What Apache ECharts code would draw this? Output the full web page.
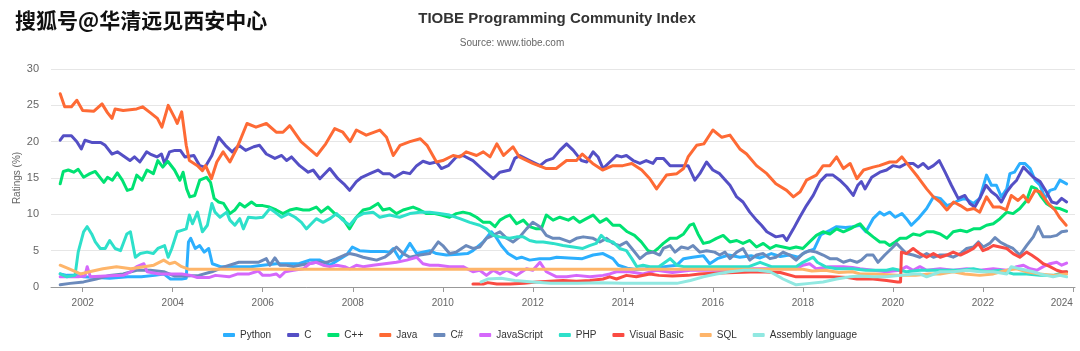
<!DOCTYPE html>
<html>
<head>
<meta charset="utf-8">
<title>TIOBE Programming Community Index</title>
<script src="https://cdn.jsdelivr.net/npm/echarts@6/dist/echarts.min.js"></script>
<style>
  html, body { margin: 0; padding: 0; background: #fff; }
  #tiobeChart { width: 1080px; height: 351px; }
</style>
</head>
<body>
<div id="tiobeChart"></div>
<script>
// 图例 / 系列名称
var languages = ['Python', 'C', 'C++', 'Java', 'C#', 'JavaScript', 'PHP', 'Visual Basic', 'SQL', 'Assembly language'];
var yearTicks = [2002, 2004, 2006, 2008, 2010, 2012, 2014, 2016, 2018, 2020, 2022, 2024];

// [year, rating %]
var pythonData = [[2001.5,1.8],[2001.65,1.6],[2001.85,1.6],[2002.02,1.4],[2002.3,1.3],[2002.6,1.2],[2002.8,1.3],[2003.0,1.4],[2003.3,1.4],[2003.6,1.6],[2003.8,1.8],[2003.95,1.1],[2004.2,1.1],[2004.3,1.2],[2004.35,6.2],[2004.4,6.7],[2004.5,5.3],[2004.6,5.7],[2004.7,4.8],[2004.8,5.3],[2004.88,3.2],[2005.06,2.8],[2005.4,2.8],[2005.73,2.8],[2006.0,3.0],[2006.3,3.2],[2006.8,3.2],[2007.04,3.7],[2007.27,3.7],[2007.49,3.0],[2007.67,3.7],[2007.86,4.4],[2007.99,5.5],[2008.15,5.0],[2008.4,4.9],[2008.7,4.9],[2008.82,4.8],[2008.9,5.3],[2009.04,3.9],[2009.15,4.8],[2009.27,6.0],[2009.42,4.6],[2009.71,5.0],[2009.86,4.6],[2010.08,4.4],[2010.35,4.5],[2010.55,4.6],[2010.67,5.0],[2010.9,6.2],[2011.08,7.6],[2011.18,6.9],[2011.3,5.7],[2011.45,4.6],[2011.64,3.9],[2011.75,4.1],[2011.93,3.7],[2012.15,3.9],[2012.38,3.9],[2012.53,4.1],[2012.8,4.0],[2013.1,3.9],[2013.34,4.4],[2013.56,4.6],[2013.78,3.9],[2013.9,3.0],[2014.1,2.6],[2014.3,2.4],[2014.5,2.5],[2014.8,2.7],[2015.05,2.9],[2015.2,3.0],[2015.35,3.9],[2015.55,4.1],[2015.79,4.3],[2015.93,3.2],[2016.1,3.9],[2016.35,4.4],[2016.6,4.1],[2016.85,4.3],[2017.05,4.0],[2017.3,4.6],[2017.5,4.2],[2017.7,4.4],[2017.9,4.1],[2018.05,4.8],[2018.25,5.2],[2018.4,7.2],[2018.6,7.8],[2018.75,8.3],[2018.95,8.2],[2019.1,8.3],[2019.27,8.5],[2019.4,7.6],[2019.56,9.4],[2019.71,10.3],[2019.8,9.9],[2019.93,10.3],[2020.05,9.6],[2020.2,10.1],[2020.3,9.4],[2020.41,8.5],[2020.56,9.4],[2020.75,10.8],[2020.9,12.4],[2021.05,12.2],[2021.2,11.2],[2021.34,11.5],[2021.45,11.9],[2021.6,12.2],[2021.79,11.5],[2021.93,12.2],[2022.08,15.4],[2022.19,14.0],[2022.3,14.0],[2022.41,12.4],[2022.53,13.5],[2022.6,15.6],[2022.7,15.8],[2022.82,17.0],[2022.93,17.0],[2023.05,16.3],[2023.16,14.7],[2023.27,14.0],[2023.38,12.2],[2023.49,13.3],[2023.6,13.5],[2023.71,14.7],[2023.86,14.2]];

var cData = [[2001.5,20.2],[2001.57,20.8],[2001.75,20.8],[2001.87,20.0],[2001.97,19.0],[2002.05,20.2],[2002.2,19.9],[2002.4,19.9],[2002.5,19.5],[2002.65,18.3],[2002.77,18.6],[2003.05,17.4],[2003.15,17.9],[2003.27,17.2],[2003.42,18.6],[2003.5,18.3],[2003.65,17.9],[2003.75,18.3],[2003.82,17.0],[2003.93,18.6],[2004.05,18.8],[2004.17,18.8],[2004.27,17.9],[2004.47,18.1],[2004.6,16.7],[2004.72,16.5],[2004.87,18.1],[2005.02,20.6],[2005.17,19.5],[2005.32,18.6],[2005.47,19.5],[2005.62,18.8],[2005.8,19.3],[2005.93,19.5],[2006.08,18.3],[2006.27,17.7],[2006.42,18.1],[2006.53,17.4],[2006.64,17.9],[2006.82,16.7],[2007.01,15.8],[2007.12,16.1],[2007.27,14.9],[2007.49,16.3],[2007.67,14.9],[2007.8,14.2],[2007.93,13.3],[2008.08,14.5],[2008.2,15.1],[2008.38,15.6],[2008.56,16.1],[2008.67,15.6],[2008.82,15.6],[2008.93,15.1],[2009.12,15.8],[2009.27,15.6],[2009.42,16.7],[2009.56,17.3],[2009.71,17.0],[2009.86,17.2],[2009.97,16.3],[2010.12,16.7],[2010.3,17.9],[2010.45,18.1],[2010.67,17.4],[2010.9,16.1],[2011.12,14.9],[2011.27,15.8],[2011.49,16.1],[2011.6,17.7],[2011.71,18.1],[2011.93,17.4],[2012.16,16.7],[2012.3,17.4],[2012.45,17.7],[2012.6,18.8],[2012.75,19.7],[2012.9,18.8],[2013.08,17.4],[2013.2,17.2],[2013.34,18.6],[2013.45,17.9],[2013.56,16.3],[2013.71,17.2],[2013.86,18.1],[2013.97,17.9],[2014.08,18.1],[2014.23,17.4],[2014.38,17.0],[2014.52,17.4],[2014.67,17.0],[2014.75,17.7],[2014.9,17.7],[2015.05,16.7],[2015.2,16.7],[2015.45,16.7],[2015.6,14.7],[2015.71,15.6],[2015.86,17.2],[2016.0,16.1],[2016.15,15.6],[2016.38,14.0],[2016.53,12.4],[2016.67,11.7],[2016.82,10.3],[2016.97,9.2],[2017.08,8.5],[2017.2,7.6],[2017.4,6.9],[2017.56,7.1],[2017.64,6.4],[2017.79,8.0],[2017.93,9.6],[2018.08,11.2],[2018.23,12.6],[2018.38,14.5],[2018.52,15.4],[2018.67,15.4],[2018.82,14.7],[2018.97,13.8],[2019.12,12.6],[2019.22,14.0],[2019.3,14.5],[2019.38,13.5],[2019.53,15.1],[2019.71,15.8],[2019.86,16.1],[2020.0,16.7],[2020.15,16.5],[2020.3,17.0],[2020.45,17.0],[2020.56,16.5],[2020.67,17.0],[2020.79,16.3],[2020.9,16.7],[2021.03,17.4],[2021.16,15.8],[2021.3,14.0],[2021.45,12.2],[2021.6,12.6],[2021.71,11.5],[2021.82,11.0],[2021.93,12.2],[2022.07,14.0],[2022.19,13.1],[2022.3,12.6],[2022.41,11.7],[2022.53,13.1],[2022.64,14.0],[2022.75,14.7],[2022.9,16.5],[2023.01,15.8],[2023.12,15.1],[2023.27,14.5],[2023.41,13.1],[2023.53,11.7],[2023.64,11.5],[2023.75,12.2],[2023.86,11.7]];

var cppData = [[2001.5,14.2],[2001.57,15.9],[2001.68,16.1],[2001.8,15.8],[2001.9,16.2],[2002.02,15.1],[2002.16,15.6],[2002.28,15.9],[2002.47,14.4],[2002.55,15.1],[2002.66,14.7],[2002.77,15.7],[2002.88,14.7],[2002.99,13.3],[2003.1,13.5],[2003.2,15.4],[2003.32,14.7],[2003.43,16.1],[2003.57,15.6],[2003.67,17.4],[2003.78,16.5],[2003.89,17.3],[2004.04,16.1],[2004.16,14.7],[2004.23,15.8],[2004.31,13.5],[2004.38,12.4],[2004.49,12.6],[2004.6,14.7],[2004.75,15.1],[2004.84,14.4],[2004.92,12.2],[2005.02,11.7],[2005.13,11.5],[2005.27,10.1],[2005.38,10.6],[2005.49,11.5],[2005.6,11.0],[2005.75,11.7],[2005.86,11.2],[2006.0,11.2],[2006.15,11.0],[2006.3,10.6],[2006.45,10.1],[2006.6,10.6],[2006.75,10.8],[2006.9,10.6],[2007.04,10.6],[2007.19,11.0],[2007.3,10.3],[2007.45,11.0],[2007.6,10.1],[2007.78,9.4],[2007.93,8.0],[2008.08,9.6],[2008.23,10.6],[2008.38,10.8],[2008.56,11.5],[2008.67,10.6],[2008.82,10.8],[2008.97,10.1],[2009.12,10.6],[2009.34,11.0],[2009.49,10.6],[2009.64,10.1],[2009.82,10.1],[2009.97,9.9],[2010.15,9.6],[2010.3,10.1],[2010.45,10.3],[2010.6,10.1],[2010.75,9.6],[2010.9,8.9],[2011.05,8.9],[2011.16,8.3],[2011.27,9.2],[2011.38,9.6],[2011.49,9.9],[2011.64,8.7],[2011.79,9.2],[2011.93,8.3],[2012.08,8.0],[2012.19,8.0],[2012.3,9.9],[2012.45,9.2],[2012.6,9.6],[2012.79,9.2],[2012.9,9.6],[2013.04,8.9],[2013.19,9.4],[2013.34,9.9],[2013.49,8.9],[2013.64,9.4],[2013.78,8.5],[2013.93,8.5],[2014.1,7.6],[2014.26,7.1],[2014.41,6.2],[2014.56,5.0],[2014.68,4.8],[2014.78,5.3],[2014.9,6.0],[2015.05,6.7],[2015.2,6.7],[2015.35,7.3],[2015.49,8.5],[2015.57,8.7],[2015.67,7.3],[2015.79,6.0],[2015.93,6.2],[2016.08,6.7],[2016.23,7.1],[2016.38,6.2],[2016.53,6.4],[2016.67,6.0],[2016.82,6.4],[2016.97,5.5],[2017.12,6.0],[2017.27,5.3],[2017.4,5.7],[2017.56,5.5],[2017.71,5.3],[2017.85,5.5],[2018.0,5.3],[2018.15,6.2],[2018.3,7.1],[2018.45,7.6],[2018.6,7.3],[2018.75,8.0],[2018.9,7.6],[2019.05,8.0],[2019.2,8.5],[2019.27,8.7],[2019.42,7.6],[2019.56,6.9],[2019.71,6.2],[2019.82,6.2],[2019.93,5.7],[2020.05,6.2],[2020.16,6.7],[2020.3,6.7],[2020.45,7.3],[2020.6,7.1],[2020.75,7.6],[2020.9,7.6],[2021.05,7.3],[2021.2,6.7],[2021.34,7.6],[2021.5,7.8],[2021.64,7.6],[2021.79,8.0],[2021.93,8.0],[2022.08,8.5],[2022.23,8.7],[2022.38,9.4],[2022.53,10.3],[2022.67,10.1],[2022.82,10.8],[2022.97,11.9],[2023.08,13.8],[2023.19,13.5],[2023.3,12.4],[2023.41,11.5],[2023.56,10.9],[2023.71,10.8],[2023.86,10.4]];

var javaData = [[2001.5,26.6],[2001.6,24.8],[2001.75,24.8],[2001.87,25.7],[2002.0,24.3],[2002.25,24.2],[2002.43,25.2],[2002.55,24.0],[2002.65,23.2],[2002.72,24.5],[2002.9,24.3],[2003.2,24.5],[2003.33,24.8],[2003.5,24.0],[2003.66,23.2],[2003.76,22.0],[2003.9,25.0],[2004.05,23.2],[2004.1,22.5],[2004.2,24.1],[2004.3,19.5],[2004.37,17.4],[2004.55,16.7],[2004.66,16.0],[2004.73,16.7],[2004.86,14.9],[2004.98,17.2],[2005.12,18.6],[2005.27,17.2],[2005.42,19.0],[2005.65,22.5],[2005.85,22.0],[2006.08,22.5],[2006.3,21.3],[2006.45,21.3],[2006.6,22.2],[2006.85,20.0],[2007.2,18.1],[2007.4,19.7],[2007.6,21.8],[2007.78,21.3],[2007.94,20.0],[2008.08,21.6],[2008.3,20.9],[2008.6,21.6],[2008.75,20.6],[2008.9,18.1],[2009.05,19.5],[2009.27,20.0],[2009.5,20.4],[2009.65,19.5],[2009.86,17.2],[2010.0,17.4],[2010.23,18.1],[2010.38,17.9],[2010.52,18.6],[2010.75,18.1],[2010.9,18.6],[2011.05,17.9],[2011.2,19.7],[2011.35,18.1],[2011.56,19.3],[2011.7,17.9],[2012.0,17.0],[2012.3,16.3],[2012.52,16.3],[2012.75,17.4],[2012.97,17.4],[2013.1,18.3],[2013.33,17.0],[2013.55,16.1],[2013.78,16.7],[2014.0,16.7],[2014.2,17.0],[2014.42,16.1],[2014.6,14.9],[2014.75,13.5],[2014.97,15.4],[2015.2,15.6],[2015.35,16.3],[2015.45,17.9],[2015.64,19.5],[2015.8,19.7],[2016.0,21.6],[2016.2,20.6],[2016.38,20.9],[2016.6,19.0],[2016.75,18.3],[2016.97,16.7],[2017.2,15.6],[2017.4,14.2],[2017.64,13.3],[2017.79,12.4],[2017.94,13.1],[2018.08,14.7],[2018.3,15.4],[2018.45,16.7],[2018.6,16.7],[2018.75,17.9],[2018.9,16.3],[2019.05,17.0],[2019.2,14.9],[2019.35,16.1],[2019.56,16.5],[2019.7,16.7],[2019.93,17.2],[2020.08,17.2],[2020.2,17.9],[2020.38,16.5],[2020.56,15.1],[2020.75,13.5],[2020.9,12.4],[2021.05,11.7],[2021.2,10.6],[2021.35,11.7],[2021.5,11.2],[2021.65,10.6],[2021.8,10.8],[2021.93,10.3],[2022.08,12.4],[2022.23,11.0],[2022.38,11.0],[2022.52,10.6],[2022.63,12.6],[2022.78,11.9],[2022.9,12.6],[2023.01,11.7],[2023.16,13.3],[2023.27,13.1],[2023.45,11.5],[2023.6,10.6],[2023.7,9.6],[2023.85,8.5]];

var csharpData = [[2001.5,0.3],[2001.72,0.5],[2002.02,0.7],[2002.3,1.1],[2002.6,1.6],[2002.9,1.8],[2003.2,2.3],[2003.5,2.3],[2003.8,2.1],[2004.05,1.5],[2004.3,1.5],[2004.58,1.6],[2004.87,2.1],[2005.16,2.8],[2005.47,3.4],[2005.7,3.4],[2005.9,3.4],[2006.08,3.9],[2006.16,3.0],[2006.27,4.0],[2006.38,3.0],[2006.53,3.0],[2006.68,2.8],[2006.82,3.0],[2007.01,3.2],[2007.19,3.4],[2007.42,3.4],[2007.64,3.9],[2007.82,4.4],[2007.93,4.6],[2008.08,4.4],[2008.23,4.1],[2008.38,3.9],[2008.53,3.7],[2008.71,4.1],[2008.82,4.6],[2008.97,5.5],[2009.12,4.6],[2009.27,4.1],[2009.49,4.4],[2009.71,4.6],[2009.9,6.2],[2010.0,5.7],[2010.15,4.6],[2010.3,4.8],[2010.52,5.7],[2010.67,5.3],[2010.82,5.5],[2010.97,6.7],[2011.12,7.1],[2011.27,7.6],[2011.42,6.7],[2011.56,6.2],[2011.71,6.9],[2011.86,8.0],[2012.0,8.9],[2012.16,8.3],[2012.3,7.1],[2012.45,6.7],[2012.6,6.7],[2012.82,6.2],[2012.97,6.7],[2013.12,6.9],[2013.34,6.7],[2013.49,6.2],[2013.64,6.7],[2013.78,6.0],[2013.93,5.7],[2014.08,6.2],[2014.2,5.3],[2014.38,3.9],[2014.52,4.6],[2014.67,4.8],[2014.82,4.4],[2014.9,5.3],[2015.05,5.7],[2015.16,4.8],[2015.3,5.5],[2015.45,5.3],[2015.56,5.7],[2015.71,4.8],[2015.86,5.0],[2016.04,4.8],[2016.15,4.4],[2016.27,4.8],[2016.38,3.9],[2016.53,4.8],[2016.67,5.3],[2016.82,3.7],[2016.97,4.4],[2017.12,4.6],[2017.27,3.9],[2017.4,4.1],[2017.56,4.8],[2017.71,4.4],[2017.85,3.7],[2018.0,4.6],[2018.15,5.0],[2018.3,4.8],[2018.45,4.4],[2018.6,3.9],[2018.75,3.9],[2018.9,3.4],[2019.05,3.7],[2019.2,3.4],[2019.3,3.7],[2019.42,4.4],[2019.56,4.4],[2019.67,3.4],[2019.82,4.4],[2019.97,5.3],[2020.08,6.0],[2020.19,5.3],[2020.3,4.6],[2020.45,4.4],[2020.6,4.1],[2020.75,4.6],[2020.9,4.1],[2021.05,4.4],[2021.2,4.4],[2021.34,4.1],[2021.5,4.6],[2021.64,5.3],[2021.79,5.5],[2021.9,6.2],[2022.01,5.5],[2022.15,6.0],[2022.27,6.8],[2022.38,6.2],[2022.53,5.7],[2022.67,5.3],[2022.82,4.4],[2022.97,5.7],[2023.12,6.9],[2023.23,8.3],[2023.34,6.9],[2023.49,6.9],[2023.64,7.1],[2023.75,7.6],[2023.86,7.7]];

var jsData = [[2001.5,1.4],[2001.9,1.4],[2002.05,1.5],[2002.1,2.8],[2002.17,1.4],[2002.5,1.5],[2002.9,1.6],[2003.07,2.1],[2003.2,2.8],[2003.36,3.2],[2003.43,2.1],[2003.7,1.8],[2004.2,1.8],[2004.4,1.6],[2004.55,1.3],[2004.8,1.3],[2004.95,1.6],[2005.25,1.4],[2005.45,1.8],[2005.7,1.8],[2005.9,2.2],[2006.0,1.6],[2006.15,1.6],[2006.3,1.8],[2006.38,1.4],[2006.5,2.1],[2006.68,2.3],[2006.9,2.5],[2007.04,3.2],[2007.19,3.4],[2007.34,3.0],[2007.49,2.8],[2007.64,3.0],[2007.82,2.8],[2007.93,2.5],[2008.08,3.0],[2008.23,2.8],[2008.45,3.0],[2008.71,3.2],[2008.97,3.4],[2009.2,3.7],[2009.42,4.1],[2009.56,3.2],[2009.71,3.0],[2009.9,3.0],[2010.15,2.8],[2010.45,2.8],[2010.67,2.1],[2010.82,2.3],[2010.97,1.6],[2011.12,2.3],[2011.27,1.8],[2011.42,2.3],[2011.64,1.6],[2011.86,2.5],[2012.0,2.3],[2012.16,3.4],[2012.3,2.1],[2012.53,1.4],[2012.75,1.4],[2012.97,1.6],[2013.27,1.4],[2013.56,1.6],[2013.71,1.8],[2013.86,2.1],[2014.15,2.1],[2014.45,1.8],[2014.75,2.3],[2015.1,2.0],[2015.5,2.3],[2016.0,2.3],[2016.5,2.3],[2016.9,2.5],[2017.5,2.5],[2017.85,2.5],[2018.0,3.0],[2018.15,3.2],[2018.3,2.5],[2018.6,2.8],[2018.9,2.8],[2019.1,2.7],[2019.27,2.5],[2019.56,2.3],[2019.86,2.1],[2020.16,2.3],[2020.3,2.8],[2020.45,2.3],[2020.6,2.8],[2020.75,2.3],[2021.05,2.5],[2021.34,2.3],[2021.64,2.5],[2021.93,2.3],[2022.23,2.5],[2022.53,2.3],[2022.75,2.8],[2022.9,3.0],[2023.05,2.5],[2023.2,2.3],[2023.34,2.8],[2023.49,3.2],[2023.64,3.4],[2023.75,3.0],[2023.86,3.3]];

var phpData = [[2001.5,1.8],[2001.65,1.4],[2001.83,1.6],[2001.9,4.8],[2002.02,7.6],[2002.1,8.3],[2002.2,7.3],[2002.28,6.2],[2002.39,5.3],[2002.5,5.3],[2002.6,6.4],[2002.72,5.3],[2002.84,5.0],[2002.98,7.3],[2003.06,7.6],[2003.17,4.1],[2003.28,4.6],[2003.43,4.8],[2003.57,4.6],[2003.67,5.3],[2003.82,5.7],[2003.9,4.1],[2003.98,5.3],[2004.1,7.6],[2004.2,7.8],[2004.3,8.0],[2004.37,9.9],[2004.44,8.7],[2004.55,10.3],[2004.66,7.6],[2004.77,8.5],[2004.87,11.5],[2004.94,10.3],[2005.05,9.6],[2005.2,10.3],[2005.27,9.2],[2005.38,8.5],[2005.49,9.4],[2005.57,8.0],[2005.68,9.6],[2005.85,9.5],[2006.0,9.6],[2006.16,10.8],[2006.27,10.3],[2006.42,9.6],[2006.57,10.1],[2006.72,9.6],[2006.86,8.9],[2006.97,8.0],[2007.08,8.7],[2007.19,9.4],[2007.34,8.9],[2007.49,9.4],[2007.64,10.1],[2007.78,9.2],[2007.93,8.5],[2008.08,9.6],[2008.23,10.1],[2008.45,10.3],[2008.6,9.6],[2008.82,9.9],[2009.04,9.6],[2009.27,10.1],[2009.49,10.3],[2009.71,10.3],[2009.93,10.1],[2010.15,9.9],[2010.38,9.4],[2010.6,8.9],[2010.82,8.5],[2010.97,8.0],[2011.12,7.1],[2011.27,6.9],[2011.49,6.7],[2011.64,6.9],[2011.79,6.9],[2011.93,6.4],[2012.08,6.2],[2012.23,6.2],[2012.45,6.0],[2012.67,5.7],[2012.9,5.5],[2013.11,5.3],[2013.26,5.7],[2013.41,6.0],[2013.52,7.1],[2013.64,6.4],[2013.78,6.2],[2013.93,5.3],[2014.08,5.0],[2014.2,3.9],[2014.31,2.8],[2014.45,3.0],[2014.6,2.8],[2014.8,2.8],[2015.05,3.9],[2015.2,3.0],[2015.35,2.8],[2016.0,2.8],[2016.8,2.8],[2017.05,3.4],[2017.3,2.8],[2017.85,2.8],[2018.0,3.4],[2018.23,4.1],[2018.32,3.4],[2018.5,2.8],[2018.75,2.5],[2019.1,2.5],[2019.4,2.3],[2019.86,2.3],[2020.0,2.5],[2020.3,2.1],[2020.6,2.3],[2021.2,2.3],[2021.5,2.3],[2021.79,2.5],[2022.08,2.1],[2022.38,2.3],[2022.67,1.8],[2022.97,1.8],[2023.27,1.6],[2023.56,1.6],[2023.86,2.1]];

var vbData = [[2010.67,0.4],[2010.9,0.4],[2011.0,0.6],[2011.2,0.4],[2011.5,0.4],[2011.8,0.5],[2012.08,0.7],[2012.38,0.8],[2012.67,0.9],[2012.97,0.8],[2013.27,0.9],[2013.56,1.1],[2013.71,1.4],[2013.86,1.1],[2014.08,1.6],[2014.3,1.4],[2014.6,1.8],[2014.8,1.6],[2015.1,1.5],[2015.45,1.6],[2015.7,1.8],[2016.0,1.9],[2016.5,2.0],[2017.0,2.1],[2017.5,2.0],[2017.85,1.4],[2018.2,1.4],[2018.6,1.4],[2019.0,1.3],[2019.2,1.1],[2019.56,1.1],[2019.86,0.9],[2020.1,0.7],[2020.17,0.7],[2020.19,4.8],[2020.3,4.6],[2020.45,5.3],[2020.6,4.6],[2020.75,4.1],[2020.9,4.6],[2021.05,4.1],[2021.2,4.4],[2021.34,4.8],[2021.5,4.4],[2021.64,4.8],[2021.79,5.3],[2021.9,6.0],[2022.0,5.0],[2022.12,5.3],[2022.23,5.7],[2022.38,5.5],[2022.53,5.3],[2022.67,4.6],[2022.82,4.1],[2022.97,4.8],[2023.08,4.4],[2023.2,3.9],[2023.34,3.2],[2023.49,2.8],[2023.64,2.3],[2023.75,2.1],[2023.86,2.1]];

var sqlData = [[2001.5,3.0],[2001.7,2.5],[2001.95,1.8],[2002.15,2.1],[2002.45,2.5],[2002.75,2.8],[2003.07,2.5],[2003.36,2.8],[2003.58,3.0],[2003.8,3.7],[2003.93,3.2],[2004.05,3.4],[2004.2,2.8],[2004.35,2.45],[2018.0,2.45],[2018.2,2.2],[2018.5,2.3],[2018.8,2.0],[2019.1,2.1],[2019.27,1.8],[2019.6,1.8],[2019.9,1.7],[2020.2,1.6],[2020.5,1.6],[2020.8,1.8],[2021.05,1.8],[2021.34,2.1],[2021.6,1.8],[2021.93,1.6],[2022.23,1.8],[2022.53,2.3],[2022.75,2.5],[2022.97,2.1],[2023.27,1.8],[2023.56,1.6],[2023.86,1.8]];

var asmData = [[2010.85,0.7],[2011.0,1.1],[2011.3,1.2],[2011.6,0.9],[2012.0,0.7],[2012.4,0.5],[2013.0,0.5],[2013.5,0.6],[2014.0,0.5],[2014.6,0.5],[2015.2,0.5],[2015.5,0.9],[2015.79,1.4],[2016.08,1.8],[2016.38,2.1],[2016.7,2.3],[2017.0,2.3],[2017.27,2.1],[2017.42,1.6],[2017.56,1.1],[2017.7,0.7],[2017.85,0.3],[2018.15,0.5],[2018.45,0.7],[2018.75,1.1],[2019.05,1.4],[2019.27,1.5],[2019.56,1.4],[2019.86,1.4],[2020.16,1.6],[2020.45,1.8],[2020.6,1.8],[2020.75,1.4],[2021.05,2.1],[2021.34,2.1],[2021.64,2.3],[2021.93,2.1],[2022.23,2.1],[2022.53,1.8],[2022.63,2.8],[2022.82,2.5],[2022.97,2.3],[2023.12,2.1],[2023.27,1.8],[2023.41,1.6],[2023.56,1.4],[2023.71,1.6],[2023.86,1.4]];

var seriesData = [pythonData, cData, cppData, javaData, csharpData, jsData, phpData, vbData, sqlData, asmData];
var lineColors = ['#2caffe', '#544fc5', '#00e272', '#fe6a35', '#6b8abc', '#d568fb', '#2ee0ca', '#fa4b42', '#feb56a', '#91e8e1'];

var tiobeChart = {

    chart : null,
    fontFamily : '"Liberation Sans", Arial, Helvetica, sans-serif',

    init : function () {
        if (tiobeChart.chart) {
            echarts.dispose(tiobeChart.chart);
        }
        tiobeChart.chart = echarts.init(document.getElementById('tiobeChart'));
        tiobeChart.chart.setOption(tiobeChart.buildOption());
    },

    buildSeries : function () {
        var series = [];
        for (var i = 0; i < languages.length; i++) {
            series.push({
                name : languages[i],
                type : 'line',
                data : seriesData[i],
                showSymbol : false,
                symbol : 'none',
                color : lineColors[i],
                lineStyle : {
                    width : 3,
                    cap : 'round',
                    join : 'round'
                },
                emphasis : { disabled : true }
            });
        }
        return series;
    },

    buildOption : function () {
        var ff = tiobeChart.fontFamily;
        return {
            animation : false,
            backgroundColor : '#ffffff',
            title : [{
                text : '搜狐号@华清远见西安中心',
                left : 15,
                top : 10,
                padding : 0,
                textStyle : {
                    color : '#111',
                    fontSize : 21,
                    fontWeight : 'bold',
                    fontFamily : '"Noto Sans CJK SC", sans-serif'
                }
            }, {
                text : 'TIOBE Programming Community Index',
                left : 557,
                top : 11,
                padding : 0,
                textAlign : 'center',
                textStyle : {
                    color : '#333333',
                    fontSize : 15,
                    fontWeight : 'bold',
                    fontFamily : ff
                }
            }, {
                text : 'Source: www.tiobe.com',
                left : 512,
                top : 38,
                padding : 0,
                textAlign : 'center',
                textStyle : {
                    color : '#666666',
                    fontSize : 10,
                    fontWeight : 'normal',
                    fontFamily : ff
                }
            }],
            legend : {
                data : languages,
                left : 'center',
                top : 325,
                icon : 'roundRect',
                itemWidth : 12,
                itemHeight : 4,
                itemGap : 16,
                selectedMode : false,
                textStyle : {
                    color : '#333333',
                    fontSize : 10,
                    fontFamily : ff
                }
            },
            grid : {
                left : 51,
                right : 5,
                top : 69,
                bottom : 64,
                containLabel : false,
                outerBoundsMode : 'none'
            },
            xAxis : {
                type : 'value',
                min : 2001.296,
                max : 2024.046,
                splitLine : { show : false },
                axisLine : {
                    show : true,
                    lineStyle : { color : '#999999', width : 1 }
                },
                axisTick : {
                    show : true,
                    customValues : yearTicks,
                    length : 5,
                    lineStyle : { color : '#999999' }
                },
                axisLabel : {
                    customValues : yearTicks,
                    margin : 11,
                    color : '#666666',
                    fontSize : 10,
                    fontFamily : ff,
                    alignMaxLabel : 'right',
                    formatter : function (v) { return String(Math.round(v)); }
                }
            },
            yAxis : {
                type : 'value',
                min : 0,
                max : 30,
                interval : 5,
                name : 'Ratings (%)',
                nameLocation : 'middle',
                nameGap : 29,
                nameMoveOverlap : false,
                nameTextStyle : {
                    color : '#666666',
                    fontSize : 10,
                    fontFamily : ff
                },
                axisLine : { show : false },
                axisTick : { show : false },
                axisLabel : {
                    margin : 12,
                    color : '#666666',
                    fontSize : 11,
                    fontFamily : ff
                },
                splitLine : {
                    lineStyle : { color : '#e6e6e6', width : 1 }
                }
            },
            series : tiobeChart.buildSeries()
        };
    }
};

tiobeChart.init();
</script>
</body>
</html>
